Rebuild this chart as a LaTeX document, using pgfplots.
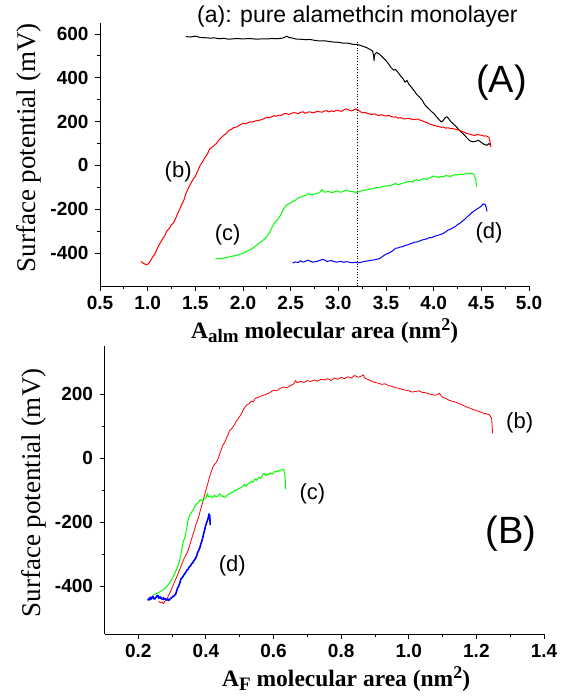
\documentclass[border=0pt]{standalone}
\usepackage{pgfplots}
\usepackage{pgfplotstable}
\pgfplotsset{compat=1.18}
\usepackage{fontspec}
\setmainfont{Liberation Serif}
\newfontfamily\arial{Liberation Sans}

\pgfplotstableread{
x y
1.40 588
1.45 586
1.50 590
1.55 584
1.60 583
1.65 581
1.70 582
1.75 578
1.80 580
1.85 576
1.90 578
1.95 579
2.00 577
2.05 579
2.10 578
2.15 576
2.20 578
2.25 577
2.30 579
2.35 578
2.40 580
2.43 583
2.46 590
2.48 584
2.52 581
2.55 577
2.60 576
2.65 574
2.70 575
2.75 571
2.80 568
2.85 569
2.90 566
2.95 563
3.00 562
3.05 558
3.10 558
3.15 553
3.20 552
3.25 545
3.30 537
3.33 530
3.36 522
3.37 500
3.375 478
3.38 505
3.40 516
3.43 508
3.46 496
3.50 478
3.53 462
3.55 448
3.58 435
3.60 438
3.62 428
3.65 410
3.68 395
3.70 380
3.72 388
3.74 370
3.77 355
3.80 338
3.82 325
3.85 312
3.88 298
3.90 282
3.92 270
3.95 258
3.98 245
4.00 238
4.03 222
4.06 208
4.08 198
4.10 205
4.12 218
4.14 222
4.16 212
4.18 200
4.20 192
4.23 180
4.26 165
4.29 152
4.32 140
4.35 125
4.38 112
4.41 108
4.44 110
4.47 115
4.50 105
4.53 96
4.56 92
4.58 100
4.60 90
}\tblA

\pgfplotstableread{
x y
0.93 -438
0.95 -445
0.97 -450
0.99 -453
1.01 -448
1.03 -435
1.05 -420
1.08 -400
1.10 -380
1.13 -355
1.15 -340
1.18 -320
1.20 -300
1.23 -285
1.25 -270
1.27 -263
1.30 -235
1.33 -205
1.35 -185
1.38 -158
1.40 -130
1.43 -100
1.45 -85
1.48 -60
1.50 -50
1.53 -20
1.55 0
1.58 20
1.60 35
1.63 55
1.65 75
1.68 85
1.70 92
1.72 100
1.75 118
1.78 130
1.80 138
1.83 148
1.85 160
1.88 165
1.90 172
1.93 175
1.95 180
1.98 188
2.00 192
2.03 190
2.05 195
2.08 199
2.10 198
2.13 203
2.15 205
2.18 207
2.20 210
2.23 216
2.25 220
2.28 218
2.30 222
2.33 227
2.35 225
2.38 230
2.40 228
2.43 236
2.45 238
2.48 232
2.50 236
2.53 241
2.55 240
2.58 236
2.60 242
2.63 245
2.65 238
2.68 243
2.70 245
2.73 240
2.75 242
2.78 247
2.80 245
2.83 243
2.85 248
2.88 250
2.90 244
2.93 249
2.95 246
2.98 252
3.00 250
3.03 247
3.05 252
3.08 258
3.10 256
3.13 249
3.15 250
3.18 258
3.20 255
3.23 246
3.25 240
3.28 242
3.30 238
3.33 235
3.35 232
3.38 236
3.40 230
3.43 228
3.45 232
3.48 227
3.50 226
3.53 229
3.55 224
3.58 220
3.60 222
3.63 216
3.65 218
3.68 213
3.70 212
3.73 216
3.75 214
3.78 209
3.80 210
3.83 212
3.85 208
3.88 204
3.90 200
3.93 195
3.95 190
3.98 186
4.00 183
4.03 180
4.05 178
4.08 174
4.10 175
4.13 170
4.15 172
4.18 168
4.20 168
4.23 165
4.25 163
4.28 158
4.30 155
4.33 150
4.35 145
4.38 143
4.40 140
4.43 136
4.45 142
4.48 139
4.50 138
4.53 134
4.55 135
4.58 128
4.59 110
4.60 85
}\tblB

\pgfplotstableread{
x y
1.71 -427
1.75 -425
1.80 -422
1.85 -418
1.90 -413
1.95 -408
2.00 -400
2.05 -390
2.10 -378
2.15 -362
2.20 -345
2.25 -325
2.28 -305
2.30 -285
2.33 -262
2.36 -250
2.40 -222
2.43 -195
2.46 -180
2.50 -170
2.55 -158
2.58 -148
2.60 -145
2.63 -140
2.65 -138
2.68 -130
2.70 -132
2.73 -135
2.75 -130
2.78 -127
2.80 -125
2.83 -110
2.85 -122
2.88 -120
2.90 -118
2.93 -124
2.95 -122
2.98 -116
3.00 -120
3.03 -122
3.05 -118
3.08 -112
3.10 -115
3.13 -120
3.15 -118
3.18 -124
3.20 -122
3.23 -118
3.25 -115
3.28 -112
3.30 -112
3.33 -106
3.35 -108
3.38 -104
3.40 -100
3.43 -102
3.45 -98
3.48 -94
3.50 -95
3.53 -92
3.55 -90
3.58 -86
3.60 -82
3.63 -88
3.65 -85
3.68 -80
3.70 -78
3.73 -74
3.75 -72
3.78 -76
3.80 -68
3.83 -66
3.85 -70
3.88 -62
3.90 -60
3.93 -64
3.95 -58
3.98 -52
4.00 -48
4.03 -52
4.05 -55
4.08 -50
4.10 -52
4.13 -46
4.15 -48
4.18 -50
4.20 -45
4.23 -42
4.25 -44
4.28 -40
4.30 -42
4.33 -38
4.35 -38
4.38 -35
4.40 -36
4.42 -40
4.44 -60
4.45 -97
}\tblC

\pgfplotstableread{
x y
2.52 -445
2.55 -440
2.58 -443
2.60 -435
2.63 -441
2.65 -438
2.68 -432
2.70 -436
2.73 -441
2.75 -440
2.78 -437
2.80 -434
2.83 -429
2.85 -430
2.88 -438
2.90 -436
2.93 -434
2.95 -438
2.98 -441
3.00 -440
3.03 -437
3.05 -442
3.08 -439
3.10 -440
3.13 -443
3.15 -444
3.18 -441
3.20 -445
3.23 -443
3.25 -440
3.28 -438
3.30 -436
3.33 -434
3.35 -432
3.38 -431
3.40 -428
3.43 -426
3.45 -420
3.48 -410
3.50 -405
3.53 -400
3.55 -395
3.58 -386
3.60 -378
3.63 -376
3.65 -372
3.68 -370
3.70 -365
3.73 -362
3.75 -358
3.78 -354
3.80 -350
3.83 -349
3.85 -345
3.88 -340
3.90 -338
3.93 -335
3.95 -330
3.98 -329
4.00 -325
4.03 -320
4.05 -318
4.08 -314
4.10 -310
4.13 -302
4.15 -295
4.18 -290
4.20 -285
4.23 -278
4.25 -270
4.28 -262
4.30 -255
4.33 -244
4.35 -235
4.38 -224
4.40 -215
4.43 -206
4.45 -200
4.48 -192
4.50 -185
4.52 -175
4.54 -178
4.55 -190
4.56 -210
}\tblD

% panel B, red curve (b) against A_F
\pgfplotstableread{
x y
0.260 -448
0.265 -452
0.270 -450
0.275 -455
0.280 -445
0.285 -440
0.290 -428
0.295 -418
0.300 -405
0.305 -392
0.310 -380
0.315 -368
0.320 -355
0.325 -342
0.330 -328
0.335 -315
0.340 -305
0.345 -295
0.350 -280
0.355 -262
0.360 -245
0.365 -228
0.370 -210
0.375 -195
0.380 -178
0.385 -158
0.390 -140
0.395 -120
0.400 -100
0.405 -82
0.410 -62
0.415 -45
0.420 -30
0.425 -20
0.430 -15
0.435 -5
0.440 10
0.445 25
0.450 40
0.455 48
0.460 60
0.465 72
0.470 85
0.475 90
0.480 98
0.485 105
0.490 115
0.495 122
0.500 130
0.505 138
0.510 150
0.515 158
0.520 165
0.525 168
0.530 172
0.535 178
0.540 175
0.545 185
0.550 188
0.560 192
0.570 196
0.580 200
0.590 205
0.600 212
0.610 210
0.620 218
0.630 222
0.640 220
0.650 226
0.660 232
0.665 242
0.670 235
0.680 240
0.690 236
0.700 242
0.710 239
0.720 244
0.730 240
0.740 246
0.750 244
0.760 248
0.770 242
0.780 250
0.790 246
0.800 252
0.810 248
0.820 254
0.830 250
0.840 258
0.850 252
0.860 256
0.865 260
0.870 250
0.880 245
0.890 240
0.900 236
0.910 234
0.920 230
0.930 232
0.940 226
0.950 224
0.960 220
0.970 218
0.980 215
0.990 212
1.000 210
1.010 206
1.020 208
1.030 210
1.040 205
1.050 204
1.060 200
1.070 198
1.080 196
1.090 202
1.100 190
1.110 186
1.120 180
1.130 177
1.140 174
1.150 170
1.160 165
1.170 160
1.180 156
1.190 152
1.200 148
1.210 145
1.220 140
1.230 138
1.238 135
1.245 124
1.248 77
}\tblBF

\pgfplotsset{
  myax/.style={
    scale only axis,
    axis lines=left,
    axis line style={-, line width=0.9pt},
    tick align=outside,
    major tick length=5pt,
    minor tick length=3pt,
    every tick/.style={black, line width=0.9pt},
    minor x tick num=1,
    minor y tick num=1,
    tick label style={font=\arial\bfseries\fontsize{19}{19}\selectfont},
    /pgf/number format/assume math mode=true,
    scaled x ticks=false, scaled y ticks=false,
    xticklabel style={yshift=-2pt, /pgf/number format/.cd, fixed, fixed zerofill, precision=1},
    yticklabel style={xshift=-3pt, /pgf/number format/.cd, fixed, precision=0},
    clip=false,
  },
  curve/.style={line width=1.0pt, line join=round},
}

\begin{document}
\begin{tikzpicture}
\path[use as bounding box] (0pt,0pt) rectangle (567pt,698pt);

% Panel A
\begin{axis}[myax,
  at={(100pt,412pt)}, anchor=south west,
  width=429pt, height=263pt,
  xmin=0.5, xmax=5.0, ymin=-550, ymax=650,
  xtick={0.5,1.0,...,5.0},
  ytick={-400,-200,0,200,400,600},
]
\addplot[black, dotted, line width=0.7pt] coordinates {(3.2,-550) (3.2,570)};
\addplot[curve, black] table[x=x,y=y] {\tblA};
\addplot[curve, red] table[x=x,y=y] {\tblB};
\addplot[curve, green] table[x=x,y=y] {\tblC};
\addplot[curve, blue] table[x=x,y=y] {\tblD};
\node[font=\arial\fontsize{38}{38}\selectfont] at (axis cs:4.71,380) {(A)};
\node[font=\arial\fontsize{22}{22}\selectfont] at (axis cs:1.32,-29) {(b)};
\node[font=\arial\fontsize{22}{22}\selectfont] at (axis cs:1.84,-317) {(c)};
\node[font=\arial\fontsize{22}{22}\selectfont] at (axis cs:4.58,-309) {(d)};
\end{axis}

% Panel B
\begin{axis}[myax,
  at={(104.5pt,64pt)}, anchor=south west,
  width=439.5pt, height=288pt,
  xmin=0.1, xmax=1.4, ymin=-550, ymax=350,
  xtick={0.2,0.4,...,1.4},
  ytick={-400,-200,0,200},
]
\addplot[curve, red, line width=0.8pt] table[x=x, y=y] {\tblBF};
\addplot[curve, green] table[x expr=\thisrow{x}/7.0, y=y] {\tblC};
\addplot[curve, blue, line width=1.6pt] table[x expr=\thisrow{x}/11.05, y=y] {\tblD};
\node[font=\arial\fontsize{38}{38}\selectfont] at (axis cs:1.302,-236) {(B)};
\node[font=\arial\fontsize{22}{22}\selectfont] at (axis cs:1.328,109) {(b)};
\node[font=\arial\fontsize{22}{22}\selectfont] at (axis cs:0.715,-111) {(c)};
\node[font=\arial\fontsize{22}{22}\selectfont] at (axis cs:0.478,-338) {(d)};
\end{axis}

% Texts outside the axes
\node[anchor=base west, font=\arial\fontsize{23}{23}\selectfont, inner sep=0pt] at (197pt,675pt) {(a): pure alamethcin monolayer};
\node[rotate=90, font=\fontsize{27}{27}\selectfont, inner sep=0pt] at (29pt,550pt) {Surface potential (mV)};
\node[rotate=90, font=\fontsize{27}{27}\selectfont, inner sep=0pt] at (34pt,205pt) {Surface potential (mV)};
\node[anchor=base west, font=\bfseries\fontsize{23.5}{23.5}\selectfont, inner sep=0pt] at (191pt,359pt) {A\raisebox{-0.3ex}{\fontsize{19}{19}\selectfont alm} molecular area (nm\raisebox{0.75ex}{\fontsize{18}{18}\selectfont 2})};
\node[anchor=base west, font=\bfseries\fontsize{23.5}{23.5}\selectfont, inner sep=0pt] at (222pt,11pt) {A\raisebox{-0.3ex}{\fontsize{19}{19}\selectfont F} molecular area (nm\raisebox{0.75ex}{\fontsize{18}{18}\selectfont 2})};
\end{tikzpicture}
\end{document}
